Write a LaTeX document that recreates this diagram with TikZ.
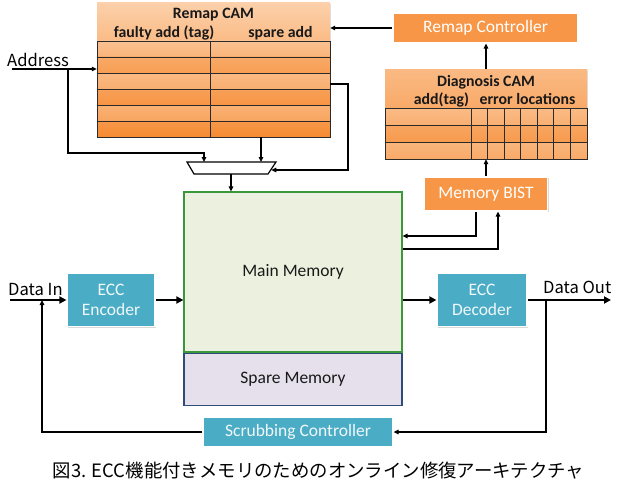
\documentclass[tikz,border=0pt]{standalone}
\usepackage{fontspec}
\setmainfont{Carlito}
\newfontfamily\jpfont{Noto Sans CJK JP}
\usetikzlibrary{arrows.meta,positioning,calc,shadows}
\definecolor{ppteal}{HTML}{4BACC6}
\definecolor{pporange}{HTML}{F79646}
\definecolor{camlight}{HTML}{FCD0AA}
\definecolor{camdark}{HTML}{F5862A}
\definecolor{memfill}{HTML}{EBF1DE}
\definecolor{memedge}{HTML}{3A983A}
\definecolor{sparefill}{HTML}{E5E0EC}
\definecolor{spareedge}{HTML}{2F4B78}
\definecolor{gridc}{HTML}{2B2B2B}
\tikzset{
  box/.style={draw=white, line width=1.2pt, align=center, text=white, inner sep=0pt,
    font=\fontsize{17.5}{20}\selectfont,
    drop shadow={shadow xshift=1pt, shadow yshift=-1.2pt, opacity=0.3}},
  orangebox/.style={box, fill=pporange},
  tealbox/.style={box, fill=ppteal, text=white!92!ppteal},
  mainbox/.style={draw=memedge, line width=1.2pt, fill=memfill, inner sep=0pt,
    font=\fontsize{17.5}{20}\selectfont, text=black!90},
  sparebox/.style={mainbox, draw=spareedge, fill=sparefill},
  camhead/.style={inner sep=0pt, top color=camlight, bottom color=camdark,
    drop shadow={shadow xshift=1pt, shadow yshift=-1.2pt, opacity=0.25}},
  camtext/.style={font=\bfseries\fontsize{15.8}{18}\selectfont, text=black!90, inner sep=0pt, anchor=base},
  sigtext/.style={font=\jpfont\fontsize{16.6}{18}\selectfont, inner sep=0pt, anchor=base west},
  gridline/.style={draw=gridc, line width=0.9pt},
  muxshape/.style={draw, line width=1.2pt, fill=white, line join=miter},
  arrow/.style={-{Triangle[length=7pt,width=7pt]}, line width=2pt},
  thinarrow/.style={-{Triangle[length=5pt,width=4.5pt]}, line width=1.5pt}
}
\begin{document}
\begin{tikzpicture}[x=1pt, y=-1pt]
  \useasboundingbox (0,0) rectangle (631,495);

  % Remap CAM
  \node[camhead, minimum width=233pt, minimum height=134pt] (remap) at (213.5,70) {};
  \foreach \ry/\pa/\pb in {41/80/62, 57/48/32, 73/70/54, 89/36/20, 105/58/42, 121/24/6}
    \shade[top color=camlight!\pa!camdark, bottom color=camlight!\pb!camdark] (97,\ry) rectangle (330,\ry+16);
  \draw[gridline] (97,41) rectangle (330,137);
  \foreach \ry in {57,73,89,105,121}
    \draw[gridline] (97,\ry) -- (330,\ry);
  \draw[gridline] (210,41) -- (210,137);
  \node[camtext] (remaptitle) at (213.5,18.5) {Remap CAM};
  \node[camtext] (remaptag) at (164,37.5) {faulty add (tag)};
  \node[camtext] (remapspare) at (280.5,37.5) {spare add};

  % Diagnosis CAM
  \node[camhead, minimum width=202pt, minimum height=90pt, top color=camlight!70!camdark, bottom color=camlight!20!camdark] (diag) at (486,114) {};
  \foreach \ry/\pa/\pb in {108/72/55, 125/42/28, 142/65/48}
    \shade[top color=camlight!\pa!camdark, bottom color=camlight!\pb!camdark] (385,\ry) rectangle (587,\ry+17);
  \draw[gridline] (385,108) rectangle (587,159);
  \foreach \ry in {125,142}
    \draw[gridline] (385,\ry) -- (587,\ry);
  \foreach \k in {0,...,6}
    \draw[gridline] (471+\k*16.57,108) -- (471+\k*16.57,159);
  \node[camtext] (diagtitle) at (486,86.7) {Diagnosis CAM};
  \node[camtext] (diagtag) at (441.5,104.5) {add(tag)};
  \node[camtext] (diagerr) at (527.5,104.5) {error locations};

  % blocks
  \node[orangebox, minimum width=185pt, minimum height=30pt] (rctrl) at (485.5,28) {Remap Controller};
  \node[orangebox, minimum width=123pt, minimum height=34pt] (bist) at (486,194) {Memory BIST};
  \node[mainbox, minimum width=218pt, minimum height=160pt] (main) at (293,272) {Main Memory};
  \node[sparebox, minimum width=218pt, minimum height=52pt, below=0pt of main] (spare) {Spare Memory};
  \node[tealbox, minimum width=88pt, minimum height=53pt] (enc) at (111,300) {ECC\\Encoder};
  \node[tealbox, minimum width=90pt, minimum height=53pt] (dec) at (482,300) {ECC\\Decoder};
  \node[tealbox, minimum width=190pt, minimum height=30pt] (scrub) at (298,432) {Scrubbing Controller};

  % mux
  \draw[muxshape] (187,162) -- (276,162) -- (268,174) -- (194,174) -- cycle;
  \coordinate (muxa) at (204,162);
  \coordinate (muxb) at (261,162);
  \coordinate (muxc) at (271.3,170);
  \coordinate (muxout) at (231,174);

  % signal labels
  \node[sigtext] (addrlabel) at (7,66.5) {Address};
  \node[sigtext] (dinlabel) at (8,295) {Data In};
  \node[sigtext] (doutlabel) at (543,293) {Data Out};
  \coordinate (addrin) at (12,69);
  \coordinate (addrtap) at (68,69);
  \coordinate (din) at (10,300);
  \coordinate (dintap) at (42,300);
  \coordinate (dout) at (611,300);
  \coordinate (douttap) at (546,300);

  % remap path
  \draw[thinarrow] (rctrl.west) -- (rctrl.west -| remap.east);
  \draw[thinarrow] (addrin) -- (addrin -| remap.west);
  \draw[thinarrow] (addrtap) |- (muxa |- 0,153) -- (muxa);
  \draw[thinarrow] (muxb |- remap.south) -- (muxb);
  \draw[thinarrow] (remap.east |- 0,84) -| (348,0 |- muxc) -- (muxc);
  \draw[thinarrow] (muxout) -- (muxout |- main.north);

  % diagnosis path
  \draw[thinarrow] (bist.north) -- (bist.north |- diag.south);
  \draw[thinarrow] (diag.north) -- (diag.north |- rctrl.south);
  \draw[thinarrow] (476,0 |- bist.south) |- (main.east |- 0,236);
  \draw[thinarrow] (main.east |- 0,249) -| (498,0 |- bist.south);

  % data path
  \draw[arrow] (din) -- (enc.west);
  \draw[arrow] (enc.east) -- (enc.east -| main.west);
  \draw[arrow] (main.east |- dec.west) -- (dec.west);
  \draw[arrow] (dec.east) -- (dout);
  \draw[thinarrow] (douttap) |- (scrub.east);
  \draw[thinarrow] (scrub.west) -| (dintap);

  \node[font=\jpfont\fontsize{18.4}{20}\selectfont, inner sep=0pt] (caption) at (318.5,471) {図3. ECC機能付きメモリのためのオンライン修復アーキテクチャ};
\end{tikzpicture}
\end{document}
